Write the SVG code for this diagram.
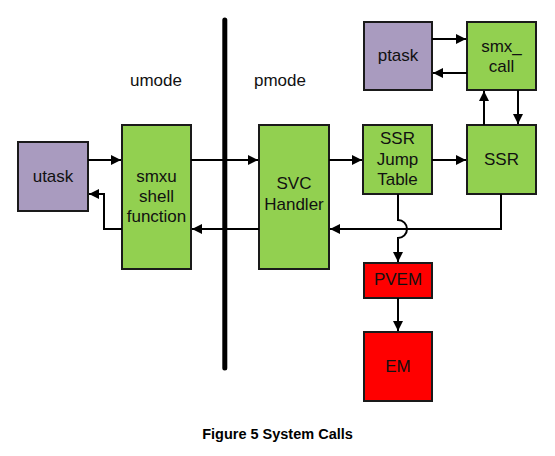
<svg xmlns="http://www.w3.org/2000/svg" width="555" height="456" viewBox="0 0 555 456">
<defs>
<marker id="ah" viewBox="0 0 10 10" refX="10" refY="5" markerWidth="10" markerHeight="10" markerUnits="userSpaceOnUse" orient="auto"><path d="M0,0 L10,5 L0,10 z" fill="#000"/></marker>
<style>
.b{stroke:#1a1a1a;stroke-width:2}
.g{fill:#92D050}
.p{fill:#A99BBF}
.r{fill:#FF0000}
.t{font-family:"Liberation Sans",Arial,sans-serif;font-size:17px;fill:#111;text-anchor:middle}
.c{fill:none;stroke:#000;stroke-width:2}
.ca{font-family:"Liberation Sans",Arial,sans-serif;font-size:14.5px;font-weight:bold;fill:#000;text-anchor:middle}
</style>
</defs>
<rect width="555" height="456" fill="#fff"/>
<line x1="224.8" y1="20" x2="224.8" y2="368" stroke="#000" stroke-width="5" stroke-linecap="round"/>
<text class="t" x="156" y="86">umode</text>
<text class="t" x="280" y="86">pmode</text>
<g id="utask"><rect class="b p" x="18" y="142" width="70" height="69"/><text class="t" x="53" y="182">utask</text></g>
<g id="smxu"><rect class="b g" x="122" y="125" width="69" height="144"/><text class="t" x="156.5" y="182">smxu</text><text class="t" x="156.5" y="202">shell</text><text class="t" x="156.5" y="222">function</text></g>
<g id="svc"><rect class="b g" x="259" y="125" width="70" height="144"/><text class="t" x="294" y="189">SVC</text><text class="t" x="294" y="210">Handler</text></g>
<g id="ssrjt"><rect class="b g" x="363" y="125" width="69" height="69"/><text class="t" x="397.5" y="144">SSR</text><text class="t" x="397.5" y="165">Jump</text><text class="t" x="397.5" y="185">Table</text></g>
<g id="ssr"><rect class="b g" x="467" y="125" width="69" height="69"/><text class="t" x="501.5" y="165">SSR</text></g>
<g id="ptask"><rect class="b p" x="364" y="22" width="68" height="68"/><text class="t" x="398" y="61">ptask</text></g>
<g id="smxcall"><rect class="b g" x="467" y="22" width="69" height="68"/><text class="t" x="501.5" y="52">smx_</text><text class="t" x="501.5" y="72">call</text></g>
<g id="pvem"><rect class="b r" x="364" y="263" width="68" height="35"/><text class="t" x="398" y="285">PVEM</text></g>
<g id="em"><rect class="b r" x="364" y="332" width="68" height="69"/><text class="t" x="398" y="372">EM</text></g>
<g id="connectors">
<path class="c" d="M88,160 H121" marker-end="url(#ah)"/>
<path class="c" d="M122,229 H104 V194 H89" marker-end="url(#ah)"/>
<path class="c" d="M191,160 H258" marker-end="url(#ah)"/>
<path class="c" d="M259,229 H192" marker-end="url(#ah)"/>
<path class="c" d="M329,160 H362" marker-end="url(#ah)"/>
<path class="c" d="M432,160 H466" marker-end="url(#ah)"/>
<path class="c" d="M432,39 H466" marker-end="url(#ah)"/>
<path class="c" d="M467,73 H433" marker-end="url(#ah)"/>
<path class="c" d="M484,125 V91" marker-end="url(#ah)"/>
<path class="c" d="M518,90 V124" marker-end="url(#ah)"/>
<path class="c" d="M501,194 V229 H330" marker-end="url(#ah)"/>
<path class="c" d="M398,194 V220 A9,9 0 0 1 398,238 V262" marker-end="url(#ah)"/>
<path class="c" d="M398,298 V331" marker-end="url(#ah)"/>
</g>
<text class="ca" x="277.5" y="439">Figure 5 System Calls</text>
</svg>
